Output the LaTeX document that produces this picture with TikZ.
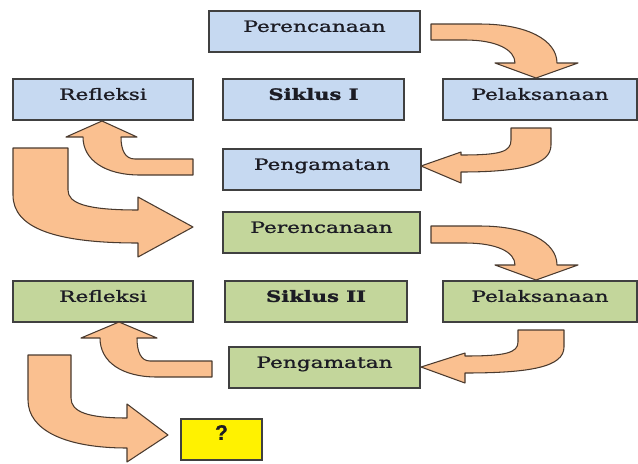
\documentclass[tikz,border=0pt]{standalone}
\usepackage{fontspec}
\usetikzlibrary{calc}
\newfontfamily\boxfont[FakeStretch=1.4, FakeBold=1.3]{DejaVu Serif}
\newfontfamily\siklusfont[FakeStretch=1.36, FakeBold=2]{DejaVu Serif Bold}
\newfontfamily\qfont[FakeBold=1]{Liberation Sans Bold}
\definecolor{bluefill}{HTML}{C6D9F1}
\definecolor{greenfill}{HTML}{C3D69B}
\definecolor{arrowfill}{HTML}{FAC090}
\definecolor{boxline}{HTML}{404040}
\definecolor{arrowline}{HTML}{4A3A2E}
\definecolor{textdark}{HTML}{1C1C24}
\tikzstyle{box}=[rectangle,draw=boxline,line width=1.2pt,minimum height=1.23cm,
  inner xsep=0pt,inner ysep=0.165cm,text height=0.46cm,text depth=0.44cm,
  text=textdark,font=\boxfont\fontsize{13.2}{15}\selectfont]
\tikzstyle{fatarrow}=[fill=arrowfill,draw=arrowline,line width=0.9pt,line join=round]

\begin{document}
\begin{tikzpicture}[x=0.03cm, y=-0.03cm]
    \useasboundingbox (0,0) rectangle (638,463);
    % First we draw the boxes of cycle I
    \foreach \pos/ \name/ \w/ \txt in {{(314.5,31.5)/per1/211/Perencanaan},{(103,99.5)/ref1/180/Refleksi},
        {(540,99.5)/pel1/194/Pelaksanaan},{(322,169.5)/pen1/198/Pengamatan}}
        \node[box,fill=bluefill,minimum width={\w*0.03cm}] (\name) at \pos {\txt};
    \node[box,fill=bluefill,minimum width=5.43cm] (sik1) at (313.5,99.5) {\siklusfont Siklus I};

    % Then the boxes of cycle II
    \foreach \pos/ \name/ \w/ \txt in {{(321.5,232.5)/per2/197/Perencanaan},{(103,301.5)/ref2/180/Refleksi},
        {(540,301.5)/pel2/194/Pelaksanaan},{(324.5,367.5)/pen2/191/Pengamatan}}
        \node[box,fill=greenfill,minimum width={\w*0.03cm}] (\name) at \pos {\txt};
    \node[box,fill=greenfill,minimum width=5.46cm] (sik2) at (316,301.5) {\siklusfont Siklus II};

    \node[box,fill=yellow,minimum width=2.43cm,font=\qfont\fontsize{18}{20}\selectfont] (hasil) at (221.5,439.5) {?};

    % Fat arrows of cycle I
    \path[fatarrow] (431,24) -- (480,24) .. controls (527,24) and (557,40) .. (557,63) -- (578,63)
        -- (536,78) -- (495,63) -- (515,63) .. controls (515,50) and (497,40) .. (465,40) -- (431,40) -- cycle;
    \path[fatarrow] (511,128) -- (551,128) -- (551,145) .. controls (551,165) and (520,172) .. (461,172)
        -- (461,183) -- (421,166) -- (461,152) -- (461,155) .. controls (500,155) and (511,152) .. (511,140) -- cycle;
    \path[fatarrow] (193,159) -- (135,159) .. controls (125,159) and (121,150) .. (121,137) -- (137,137)
        -- (102,121) -- (66,137) -- (83,137) .. controls (83,160) and (105,175) .. (140,175) -- (193,175) -- cycle;
    \path[fatarrow] (68,148) -- (68,190) .. controls (68,203) and (85,210) .. (138,210) -- (138,197)
        -- (193,227) -- (138,257) -- (138,243) .. controls (55,243) and (13,228) .. (13,195) -- (13,148) -- cycle;

    % Fat arrows of cycle II
    \path[fatarrow] (431,226) -- (480,226) .. controls (527,226) and (557,242) .. (557,265) -- (578,265)
        -- (536,280) -- (495,265) -- (515,265) .. controls (515,252) and (497,243) .. (465,243) -- (431,243) -- cycle;
    \path[fatarrow] (518,330) -- (564,330) -- (564,347) .. controls (564,367) and (530,373) .. (465,373)
        -- (465,383) -- (421,367) -- (465,353) -- (465,356) .. controls (505,356) and (518,353) .. (518,342) -- cycle;
    \path[fatarrow] (212,361) -- (150,361) .. controls (141,361) and (137,352) .. (137,338) -- (157,338)
        -- (119,322) -- (81,338) -- (100,338) .. controls (100,362) and (122,377) .. (157,377) -- (212,377) -- cycle;
    \path[fatarrow] (71,355) -- (71,398) .. controls (71,412) and (88,418) .. (127,418) -- (127,404)
        -- (168,435) -- (127,462) -- (127,448) .. controls (65,448) and (28,430) .. (28,400) -- (28,355) -- cycle;
\end{tikzpicture}
\end{document}
